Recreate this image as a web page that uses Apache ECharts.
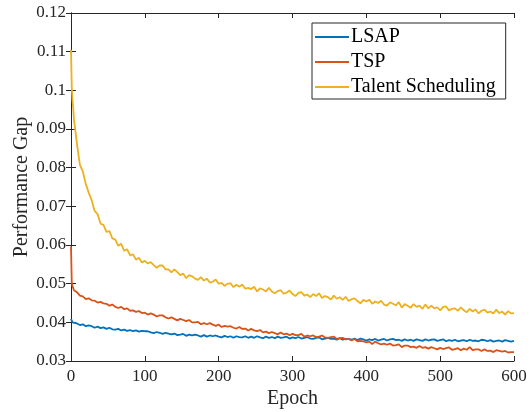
<!DOCTYPE html>
<html>
<head>
<meta charset="utf-8">
<script src="https://cdn.jsdelivr.net/npm/echarts@6/dist/echarts.min.js"></script>
<style>html,body{margin:0;padding:0;background:#fff;}#c{width:531px;height:412px;}</style>
</head>
<body>
<div id="c"></div>
<script>
var epochs = [0,1,2,3,4,8,12,16,20,24,28,32,36,40,44,48,52,56,60,64,68,72,76,80,84,88,92,96,100,
104,108,112,116,120,124,128,132,136,140,144,148,152,156,160,164,168,172,176,180,184,188,192,196,200,
204,208,212,216,220,224,228,232,236,240,244,248,252,256,260,264,268,272,276,280,284,288,292,296,300,
304,308,312,316,320,324,328,332,336,340,344,348,352,356,360,364,368,372,376,380,384,388,392,396,400,
404,408,412,416,420,424,428,432,436,440,444,448,452,456,460,464,468,472,476,480,484,488,492,496,500,
504,508,512,516,520,524,528,532,536,540,544,548,552,556,560,564,568,572,576,580,584,588,592,596,600];

var lsap = [0.0409,0.0404,0.0400,0.0401,0.0398,0.0397,0.0393,0.0395,0.0390,0.0392,0.0390,0.0386,0.0389,0.0385,0.0387,0.0383,0.0386,0.0382,0.0381,0.0383,0.0379,0.0381,0.0378,0.0380,0.0377,0.0379,0.0376,0.0378,
0.0377,0.0377,0.0374,0.0372,0.0375,0.0373,0.0370,0.0373,0.0371,0.0369,0.0371,0.0367,0.0368,0.0370,0.0365,0.0368,0.0366,0.0368,0.0366,0.0363,0.0367,0.0363,0.0366,0.0364,0.0366,0.0363,
0.0361,0.0365,0.0362,0.0364,0.0360,0.0364,0.0362,0.0361,0.0364,0.0360,0.0363,0.0360,0.0364,0.0361,0.0359,0.0363,0.0360,0.0362,0.0359,0.0363,0.0360,0.0361,0.0363,0.0358,0.0361,
0.0359,0.0362,0.0358,0.0360,0.0362,0.0358,0.0357,0.0360,0.0361,0.0356,0.0358,0.0360,0.0357,0.0358,0.0355,0.0359,0.0355,0.0357,0.0357,0.0355,0.0358,0.0354,0.0358,0.0356,0.0353,
0.0356,0.0354,0.0357,0.0353,0.0355,0.0357,0.0353,0.0356,0.0357,0.0354,0.0355,0.0352,0.0356,0.0353,0.0355,0.0352,0.0356,0.0354,0.0352,0.0356,0.0353,0.0355,0.0356,0.0352,0.0354,
0.0356,0.0351,0.0354,0.0352,0.0355,0.0351,0.0353,0.0354,0.0351,0.0355,0.0352,0.0353,0.0351,0.0355,0.0354,0.0351,0.0354,0.0350,0.0352,0.0353,0.0350,0.0354,0.0352,0.0350,0.0352];

var tsp = [0.0596,0.0505,0.0494,0.0490,0.0483,0.0478,0.0469,0.0467,0.0460,0.0462,0.0457,0.0456,0.0451,0.0453,0.0449,0.0448,0.0443,0.0446,0.0440,0.0437,0.0440,0.0434,0.0436,0.0430,0.0431,0.0427,0.0429,0.0424,
0.0425,0.0420,0.0423,0.0420,0.0415,0.0418,0.0418,0.0413,0.0410,0.0413,0.0409,0.0405,0.0409,0.0406,0.0403,0.0406,0.0400,0.0400,0.0401,0.0395,0.0398,0.0395,0.0398,0.0394,0.0391,0.0394,
0.0388,0.0391,0.0389,0.0390,0.0386,0.0384,0.0388,0.0383,0.0384,0.0379,0.0383,0.0379,0.0377,0.0380,0.0374,0.0376,0.0372,0.0375,0.0372,0.0369,0.0374,0.0369,0.0371,0.0367,0.0370,
0.0367,0.0367,0.0370,0.0363,0.0366,0.0364,0.0366,0.0362,0.0363,0.0366,0.0361,0.0360,0.0362,0.0363,0.0357,0.0359,0.0360,0.0356,0.0357,0.0353,0.0357,0.0351,0.0352,0.0351,0.0348,
0.0350,0.0344,0.0350,0.0346,0.0343,0.0345,0.0342,0.0345,0.0340,0.0341,0.0343,0.0336,0.0340,0.0340,0.0336,0.0337,0.0334,0.0339,0.0334,0.0336,0.0332,0.0336,0.0333,0.0330,0.0334,
0.0331,0.0333,0.0335,0.0329,0.0331,0.0333,0.0328,0.0332,0.0329,0.0336,0.0328,0.0330,0.0330,0.0326,0.0330,0.0326,0.0327,0.0323,0.0328,0.0326,0.0324,0.0326,0.0322,0.0323,0.0323];

var talent = [0.1105,0.1010,0.0975,0.0955,0.0925,0.0862,0.0808,0.0790,0.0758,0.0735,0.0716,0.0688,0.0680,0.0655,0.0652,0.0634,0.0636,0.0617,0.0614,0.0598,0.0603,0.0585,0.0589,0.0573,0.0576,0.0562,0.0567,0.0555,
0.0559,0.0552,0.0556,0.0548,0.0541,0.0547,0.0547,0.0537,0.0537,0.0529,0.0537,0.0530,0.0522,0.0526,0.0514,0.0522,0.0519,0.0513,0.0510,0.0517,0.0508,0.0513,0.0503,0.0505,0.0511,0.0500,
0.0502,0.0494,0.0500,0.0501,0.0491,0.0497,0.0492,0.0498,0.0487,0.0489,0.0486,0.0492,0.0480,0.0488,0.0485,0.0480,0.0489,0.0480,0.0475,0.0481,0.0483,0.0474,0.0477,0.0482,0.0473,
0.0468,0.0476,0.0478,0.0469,0.0472,0.0465,0.0473,0.0468,0.0475,0.0463,0.0468,0.0465,0.0459,0.0469,0.0461,0.0465,0.0458,0.0466,0.0455,0.0460,0.0462,0.0455,0.0449,0.0458,0.0454,
0.0458,0.0448,0.0454,0.0450,0.0456,0.0446,0.0443,0.0452,0.0448,0.0444,0.0452,0.0438,0.0447,0.0443,0.0438,0.0447,0.0440,0.0443,0.0435,0.0446,0.0436,0.0443,0.0436,0.0439,0.0431,
0.0440,0.0441,0.0431,0.0435,0.0436,0.0430,0.0439,0.0431,0.0426,0.0435,0.0428,0.0433,0.0423,0.0430,0.0433,0.0425,0.0428,0.0423,0.0433,0.0424,0.0428,0.0420,0.0429,0.0423,0.0424];

var seriesNames = ['LSAP', 'TSP', 'Talent Scheduling'];
var seriesColors = ['#0072BD', '#D95319', '#EDB120'];
var xTicks = [0, 600, 100];
var yTicks = [0.03, 0.12, 0.01];

function pairs(vals) { return epochs.map(function (e, i) { return [e, vals[i]]; }); }

var FONT = 'Liberation Serif';
var AX = '#262626';

var chart = echarts.init(document.getElementById('c'), null, { renderer: 'canvas' });
var commonX = { type: 'value', min: xTicks[0], max: xTicks[1], interval: xTicks[2] };
var commonY = { type: 'value', min: yTicks[0], max: yTicks[1], interval: yTicks[2] };
chart.setOption({
  animation: false,
  backgroundColor: '#fff',
  textStyle: { fontFamily: FONT },
  grid: { left: 71, right: 17, top: 13, bottom: 51, containLabel: false, outerBoundsMode: 'none' },
  legend: {
    data: seriesNames,
    orient: 'vertical',
    left: 312, top: 23,
    icon: 'rect',
    itemWidth: 34, itemHeight: 2, itemGap: 5,
    padding: [4, 10, 2, 3],
    borderColor: AX, borderWidth: 1,
    backgroundColor: '#fff',
    textStyle: { fontFamily: FONT, fontSize: 20, color: '#000', padding: [0, 0, 0, -3] }
  },
  xAxis: [
    Object.assign({}, commonX, {
      name: 'Epoch', nameLocation: 'middle', nameGap: 28, nameMoveOverlap: false,
      nameTextStyle: { fontFamily: FONT, fontSize: 20, color: AX },
      axisLine: { show: true, lineStyle: { color: AX, width: 1 } },
      axisTick: { show: true, inside: true, length: 5, lineStyle: { color: AX } },
      axisLabel: { fontFamily: FONT, fontSize: 17, color: AX, margin: 7 },
      splitLine: { show: false }
    }),
    Object.assign({}, commonX, {
      position: 'top',
      axisLine: { show: true, lineStyle: { color: AX, width: 1 } },
      axisTick: { show: true, inside: true, length: 5, lineStyle: { color: AX } },
      axisLabel: { show: false }, splitLine: { show: false }
    })
  ],
  yAxis: [
    Object.assign({}, commonY, {
      name: 'Performance Gap', nameLocation: 'middle', nameGap: 39, nameMoveOverlap: false,
      nameTextStyle: { fontFamily: FONT, fontSize: 20, color: AX },
      axisLine: { show: true, lineStyle: { color: AX, width: 1 } },
      axisTick: { show: true, inside: true, length: 5, lineStyle: { color: AX } },
      axisLabel: { fontFamily: FONT, fontSize: 17, color: AX, margin: 5,
        formatter: function (v) { return String(parseFloat(v.toFixed(2))); } },
      splitLine: { show: false }
    }),
    Object.assign({}, commonY, {
      position: 'right',
      axisLine: { show: true, lineStyle: { color: AX, width: 1 } },
      axisTick: { show: true, inside: true, length: 5, lineStyle: { color: AX } },
      axisLabel: { show: false }, splitLine: { show: false }
    })
  ],
  series: [
    { name: seriesNames[0], type: 'line', data: pairs(lsap), showSymbol: false, symbol: 'none',
      lineStyle: { color: seriesColors[0], width: 1.8 }, itemStyle: { color: seriesColors[0] }, z: 3 },
    { name: seriesNames[1], type: 'line', data: pairs(tsp), showSymbol: false, symbol: 'none',
      lineStyle: { color: seriesColors[1], width: 1.8 }, itemStyle: { color: seriesColors[1] }, z: 4 },
    { name: seriesNames[2], type: 'line', data: pairs(talent), showSymbol: false, symbol: 'none',
      lineStyle: { color: seriesColors[2], width: 1.8 }, itemStyle: { color: seriesColors[2] }, z: 5 }
  ]
});
</script>
</body>
</html>
